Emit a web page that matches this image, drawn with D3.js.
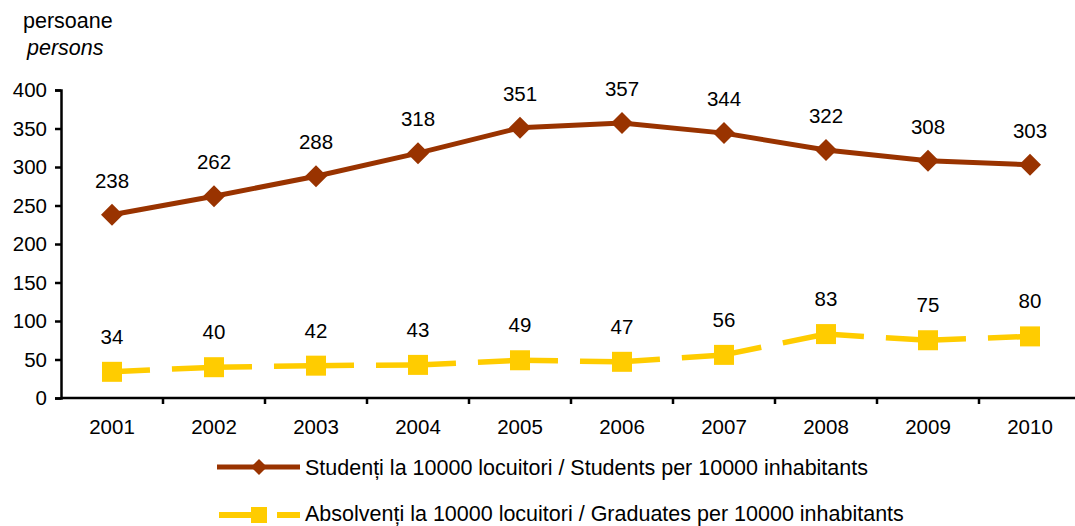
<!DOCTYPE html>
<html><head><meta charset="utf-8">
<script src="https://cdn.jsdelivr.net/npm/d3@7"></script>
<style>body{margin:0;background:#fff}svg{display:block;font-family:Arial,"Liberation Sans",sans-serif}</style>
</head><body>
<svg id="c" width="1075" height="526"></svg>
<script>
const years = ["2001","2002","2003","2004","2005","2006","2007","2008","2009","2010"];
const students = [238,262,288,318,351,357,344,322,308,303];
const graduates = [34,40,42,43,49,47,56,83,75,80];
const yTicks = [0,50,100,150,200,250,300,350,400];
const legendLabels = ["Studenți la 10000 locuitori / Students per 10000 inhabitants",
                      "Absolvenți la 10000 locuitori / Graduates per 10000 inhabitants"];
const unitLabels = ["persoane","persons"];

const brown = "#993300", yellow = "#FFCC00";
const svg = d3.select("#c");
const x = d3.scaleBand().domain(years).range([61, 1081]).padding(0);
const y = d3.scaleLinear().domain([0, 400]).range([398, 90]);
const cx = d => x(d) + x.bandwidth()/2;
const fs = 20.5, fsL = 21.5;

// axes
const yAxis = svg.append("g").attr("transform","translate(61,0)")
  .call(d3.axisLeft(y).tickValues(yTicks).tickSize(6).tickPadding(8));
const xAxis = svg.append("g").attr("transform","translate(0,398)")
  .call(d3.axisBottom(x).tickSize(0).tickPadding(21));
[yAxis, xAxis].forEach(a=>{
  a.selectAll("path").attr("stroke","#000").attr("stroke-width",2.5);
  a.selectAll("line").attr("stroke","#000").attr("stroke-width",2.5);
  a.selectAll("text").attr("font-size",fs).attr("fill","#000").attr("font-family","Arial, 'Liberation Sans', sans-serif");
});
xAxis.select(".domain").attr("d","M61,0H1081");
xAxis.selectAll(".bt").data(years.slice(1)).enter().append("line")
  .attr("x1",d=>x(d)).attr("x2",d=>x(d)).attr("y1",0).attr("y2",6)
  .attr("stroke","#000").attr("stroke-width",2.5);

// unit labels
svg.append("text").attr("x",23).attr("y",28).attr("font-size",fsL).text(unitLabels[0]);
svg.append("text").attr("x",27).attr("y",55).attr("font-size",fsL).attr("font-style","italic").text(unitLabels[1]);

// graduates (dashed, per segment)
const gpts = years.map((yr,i)=>[cx(yr), y(graduates[i])]);
for(let i=0;i<gpts.length-1;i++){
  svg.append("line").attr("x1",gpts[i][0]).attr("y1",gpts[i][1])
    .attr("x2",gpts[i+1][0]).attr("y2",gpts[i+1][1])
    .attr("stroke",yellow).attr("stroke-width",5.5).attr("stroke-dasharray","38,22");
}
svg.selectAll(".sq").data(graduates).enter().append("rect")
  .attr("x",(d,i)=>cx(years[i])-10).attr("y",d=>y(d)-10)
  .attr("width",20).attr("height",20).attr("fill",yellow);
svg.selectAll(".gl").data(graduates).enter().append("text")
  .attr("x",(d,i)=>cx(years[i])).attr("y",d=>y(d)-28)
  .attr("text-anchor","middle").attr("font-size",fs).text(d=>d);

// students
svg.append("path").datum(students)
  .attr("d", d3.line().x((d,i)=>cx(years[i])).y(d=>y(d)))
  .attr("fill","none").attr("stroke",brown).attr("stroke-width",5);
const diamond = (s)=>`M0,${-s}L${s},0L0,${s}L${-s},0Z`;
svg.selectAll(".dm").data(students).enter().append("path")
  .attr("transform",(d,i)=>`translate(${cx(years[i])},${y(d)})`)
  .attr("d",diamond(11)).attr("fill",brown);
svg.selectAll(".sl").data(students).enter().append("text")
  .attr("x",(d,i)=>cx(years[i])).attr("y",d=>y(d)-27)
  .attr("text-anchor","middle").attr("font-size",fs).text(d=>d);

// legend
const lg = svg.append("g");
lg.append("line").attr("x1",217).attr("x2",300).attr("y1",467).attr("y2",467)
  .attr("stroke",brown).attr("stroke-width",5);
lg.append("path").attr("transform","translate(259,467)").attr("d",diamond(8)).attr("fill",brown);
lg.append("text").attr("x",305).attr("y",475).attr("font-size",fsL).text(legendLabels[0]);
lg.append("line").attr("x1",219).attr("x2",252).attr("y1",515).attr("y2",515)
  .attr("stroke",yellow).attr("stroke-width",6);
lg.append("line").attr("x1",277).attr("x2",300).attr("y1",515).attr("y2",515)
  .attr("stroke",yellow).attr("stroke-width",6);
lg.append("rect").attr("x",251).attr("y",507).attr("width",16).attr("height",16).attr("fill",yellow);
lg.append("text").attr("x",305).attr("y",521).attr("font-size",fsL).text(legendLabels[1]);
</script>
</body></html>
